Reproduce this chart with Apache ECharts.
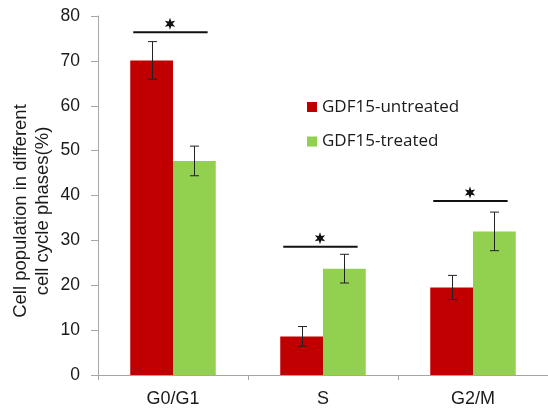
<!DOCTYPE html>
<html><head><meta charset="utf-8">
<script src="https://cdn.jsdelivr.net/npm/echarts@6/dist/echarts.min.js"></script>
<style>html,body{margin:0;padding:0;background:#fff}#c{width:548px;height:410px}</style>
</head><body><div id="c"></div>
<script>
const categories = ['G0/G1', 'S', 'G2/M'];
const untreated = [70.1, 8.6, 19.5];
const untreatedErr = [4.2, 2.2, 2.7];
const treated = [47.7, 23.7, 32.0];
const treatedErr = [3.3, 3.2, 4.3];
const sigLevel = [76.4, 28.6, 38.8];
const yTicks = [0, 10, 20, 30, 40, 50, 60, 70, 80];

const RED = '#C00000', GREEN = '#92D050';
const BARW = 0.285;

const chart = echarts.init(document.getElementById('c'));

function errItem(sign) {
  return function (params, api) {
    const cat = api.value(0);
    const lo = api.coord([cat, api.value(1)]);
    const hi = api.coord([cat, api.value(2)]);
    const bw = api.size([1, 0])[0] * BARW;
    const x = Math.round(lo[0] + sign * bw / 2) + 0.5;
    const cap = 4.5;
    const st = { stroke: '#222', lineWidth: 1 };
    return { type: 'group', children: [
      { type: 'line', shape: { x1: x, y1: hi[1], x2: x, y2: lo[1] }, style: st },
      { type: 'line', shape: { x1: x - cap, y1: hi[1], x2: x + cap, y2: hi[1] }, style: st },
      { type: 'line', shape: { x1: x - cap, y1: lo[1], x2: x + cap, y2: lo[1] }, style: st }
    ]};
  };
}

function starPoints(cx, cy, ro, ri) {
  const pts = [];
  for (let i = 0; i < 12; i++) {
    const a = -Math.PI / 2 + i * Math.PI / 6;
    const r = i % 2 === 0 ? ro : ri;
    pts.push([cx + r * Math.cos(a), cy + r * Math.sin(a)]);
  }
  return pts;
}

chart.setOption({
  animation: false,
  grid: { left: 98, right: -3, top: 16, bottom: 35 },
  legend: {
    orient: 'vertical', left: 302, top: 92, itemWidth: 10, itemHeight: 10,
    itemGap: 14.5, icon: 'rect',
    textStyle: { fontFamily: 'Open Sans', fontSize: 17, color: '#1a1a1a', lineHeight: 20 },
    data: ['GDF15-untreated', 'GDF15-treated']
  },
  xAxis: {
    type: 'category', data: categories,
    axisLine: { lineStyle: { color: '#A6A6A6', width: 1 } },
    axisTick: { show: true, length: 5, lineStyle: { color: '#A6A6A6' } },
    axisLabel: { fontFamily: 'Liberation Sans', fontSize: 18, color: '#1a1a1a', margin: 15 }
  },
  yAxis: {
    type: 'value', min: 0, max: 80, interval: 10,
    splitLine: { show: false },
    axisLine: { show: true, lineStyle: { color: '#A6A6A6', width: 1 } },
    axisTick: { show: true, length: 7, lineStyle: { color: '#A6A6A6' } },
    axisLabel: { fontFamily: 'Liberation Sans', fontSize: 17.5, color: '#1a1a1a', margin: 18,
      formatter: v => yTicks.includes(v) ? String(v) : '' }
  },
  graphic: [{
    type: 'text', rotation: Math.PI / 2, x: 32, y: 211,
    style: { text: 'Cell population in different\ncell cycle phases(%)', fontFamily: 'Liberation Sans',
      fontSize: 18.5, fill: '#1a1a1a', align: 'center', verticalAlign: 'middle', lineHeight: 22 }
  }],
  series: [
    { name: 'GDF15-untreated', type: 'bar', data: untreated, barWidth: (BARW * 100) + '%', barGap: '0%',
      itemStyle: { color: RED } },
    { name: 'GDF15-treated', type: 'bar', data: treated, barWidth: (BARW * 100) + '%', barGap: '0%',
      itemStyle: { color: GREEN } },
    { type: 'custom', renderItem: errItem(-1), z: 10,
      data: untreated.map((v, i) => [i, v - untreatedErr[i], v + untreatedErr[i]]) },
    { type: 'custom', renderItem: errItem(1), z: 10,
      data: treated.map((v, i) => [i, v - treatedErr[i], v + treatedErr[i]]) },
    { type: 'custom', z: 10,
      renderItem: function (params, api) {
        const p = api.coord([api.value(0), api.value(1)]);
        const bw = api.size([1, 0])[0] * BARW;
        const x1 = p[0] - bw * 0.93, x2 = p[0] + bw * 0.81;
        const sx = p[0] - 3, sy = p[1] - 8.5;
        return { type: 'group', children: [
          { type: 'line', shape: { x1: x1, y1: p[1], x2: x2, y2: p[1] }, style: { stroke: '#111', lineWidth: 2 } },
          { type: 'polygon', shape: { points: starPoints(sx, sy, 6, 2.6) }, style: { fill: '#111' } }
        ]};
      },
      data: sigLevel.map((v, i) => [i, v]) }
  ]
});
</script></body></html>
